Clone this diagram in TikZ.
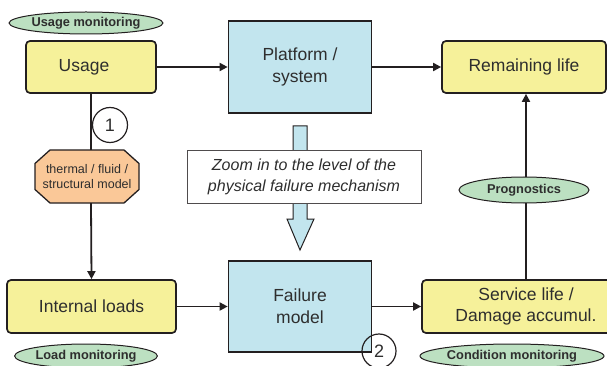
\documentclass[tikz,border=0pt]{standalone}
\usepackage{fontspec}
\setmainfont{Liberation Sans}
\usetikzlibrary{arrows.meta,shapes.geometric,calc}
\definecolor{yfill}{HTML}{F6F19A}
\definecolor{bfill}{HTML}{C2E5EE}
\definecolor{gfill}{HTML}{BCE0C1}
\definecolor{ofill}{HTML}{FAC898}
\definecolor{ink}{HTML}{231F20}
\definecolor{txt}{HTML}{2E2E2E}
\begin{document}
\begin{tikzpicture}[x=1pt,y=-1pt,
  every node/.style={inner sep=0pt, text=txt, align=center},
  yellowbox/.style={draw=ink, line width=1.7pt, fill=yfill, rounded corners=4pt,
    font=\fontsize{17.5}{21}\selectfont},
  bluebox/.style={draw=ink, line width=1.7pt, fill=bfill,
    font=\fontsize{17.5}{22}\selectfont},
  tag/.style={draw=ink, line width=1pt, fill=gfill, ellipse,
    font=\bfseries\fontsize{12.8}{14}\selectfont},
  numcircle/.style={draw=ink, line width=1.2pt, circle, minimum size=35pt,
    font=\fontsize{18}{20}\selectfont},
  conn/.style={draw=ink, line width=1.8pt},
  arr/.style={conn, -{Triangle[length=8pt,width=8pt]}}
]
\useasboundingbox (0,0) rectangle (607,366);

% boxes
\node[yellowbox, minimum width=130pt, minimum height=52pt] (usage) at (91,67) {Usage\kern14pt};
\node[bluebox, minimum width=143pt, minimum height=92pt] (platform) at (300,67) {Platform /\\system};
\node[yellowbox, minimum width=164pt, minimum height=52pt] (remain) at (524,67) {Remaining life};

% octagon model node
\coordinate (octc) at (87,176.5);
\draw[draw=ink, line width=1.3pt, fill=ofill]
  ($(octc)+(-37,-26.5)$) -- ($(octc)+(37,-26.5)$) -- ($(octc)+(52,-13)$) -- ($(octc)+(52,13)$)
  -- ($(octc)+(37,26.5)$) -- ($(octc)+(-37,26.5)$) -- ($(octc)+(-52,13)$) -- ($(octc)+(-52,-13)$) -- cycle;
\node[minimum width=104pt, minimum height=53pt,
  font=\fontsize{12.5}{15}\selectfont] (oct) at (octc) {thermal / fluid /\\structural model};

\node[yellowbox, minimum width=169pt, minimum height=53pt] (internal) at (91.5,306.5) {Internal loads};
\node[bluebox, minimum width=143pt, minimum height=91pt] (failure) at (300,306.5) {Failure\\model};
\node[yellowbox, minimum width=208pt, minimum height=53pt] (service) at (526,306.5) {Service life /\\Damage accumul.};

% fat arrow (zoom in)
\coordinate (fa) at (300,126);
\coordinate (fb) at (300,250);
\draw[draw=ink, line width=1pt, fill=bfill]
  ($(fa)+(-7,0)$) -- ($(fa)+(7,0)$) -- ($(fb)+(7,-31)$) -- ($(fb)+(14,-31)$) -- (fb)
  -- ($(fb)+(-13,-31)$) -- ($(fb)+(-7,-31)$) -- cycle;
\node[draw=ink!80, line width=1pt, fill=white, minimum width=234pt, minimum height=52pt,
  font=\itshape\fontsize{16}{21}\selectfont] (zoom) at (304,177)
  {Zoom in to the level of the\\physical failure mechanism};

% connectors
\draw[arr] (usage.east) -- (platform.west);
\draw[arr] (platform.east) -- (remain.west);
\draw[conn] (usage.south) -- (usage.south |- oct.north);
\draw[arr] (usage.south |- oct.south) -- (internal.north);
\draw[arr] (internal.east) -- (failure.west);
\draw[arr] (failure.east) -- (service.west);
\draw[arr] (service.north) -- (service.north |- remain.south);

% tags
\node[tag, minimum width=130pt, minimum height=22pt] (tusage) at (86,23) {Usage monitoring};
\node[tag, minimum width=129pt, minimum height=24pt] (tload) at (86,356) {Load monitoring};
\node[tag, minimum width=130pt, minimum height=26pt] (tprog) at (524,190) {Prognostics};
\node[tag, minimum width=155pt, minimum height=24pt] (tcond) at (512,356) {Condition monitoring};

% numbered circles
\node[numcircle] (n1) at (110,125) {1};
\node[numcircle, minimum size=34pt] (n2) at (379,351) {2};
\end{tikzpicture}
\end{document}
